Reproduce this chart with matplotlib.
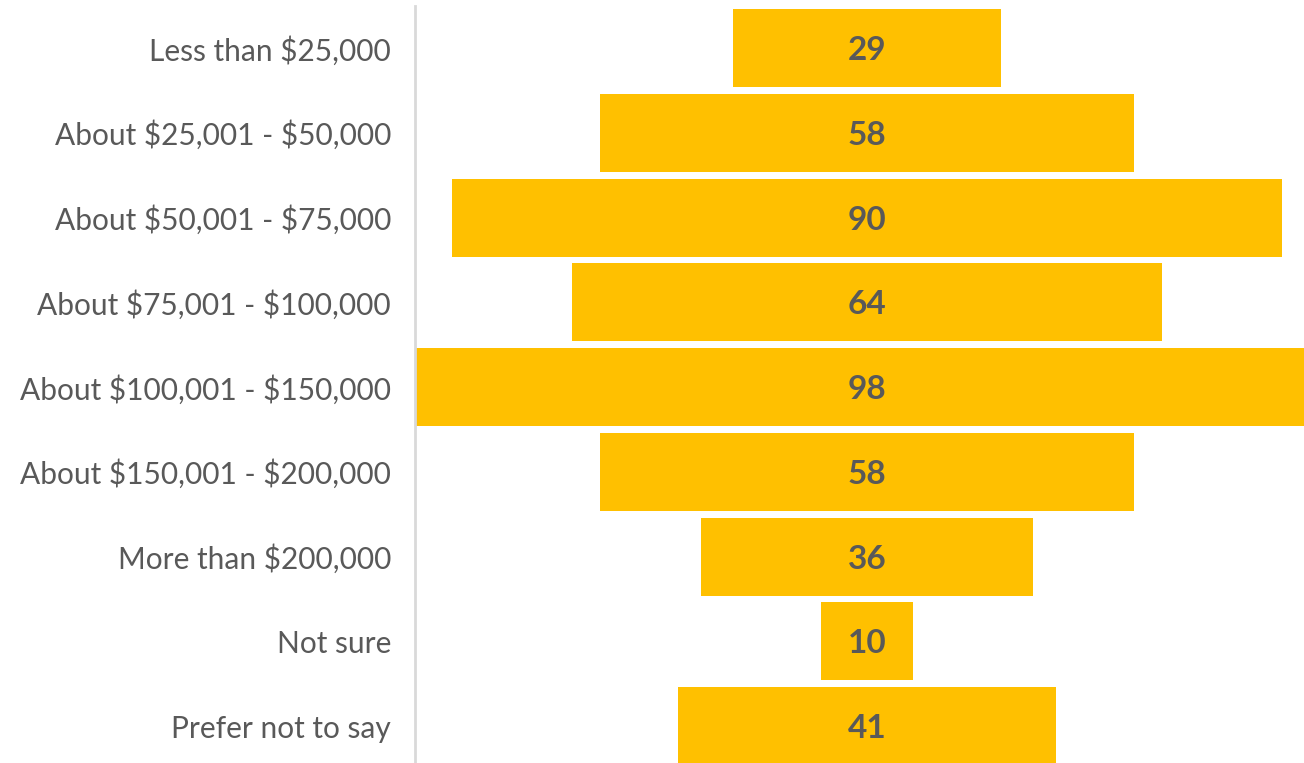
import matplotlib
matplotlib.use("Agg")
import matplotlib.pyplot as plt

categories = ["Less than $25,000", "About $25,001 - $50,000", "About $50,001 - $75,000",
              "About $75,001 - $100,000", "About $100,001 - $150,000", "About $150,001 - $200,000",
              "More than $200,000", "Not sure", "Prefer not to say"]
values = [29, 58, 90, 64, 98, 58, 36, 10, 41]

plt.rcParams['font.family'] = ['Lato', 'DejaVu Sans']
plt.rcParams['text.parse_math'] = False
text_color = "#595959"
bar_color = "#FFC000"

fig = plt.figure(figsize=(13.04, 7.63), dpi=100)
ax = fig.add_axes([416/1304, -5.6/763, 888/1304, 763/763])

n = len(categories)
ypos = list(range(n))
lefts = [-v/2 for v in values]
ax.barh(ypos, values, left=lefts, height=0.92, color=bar_color)
for y, v in zip(ypos, values):
    ax.text(0, y + 0.03, str(v), ha='center', va='center', fontsize=24, fontweight='bold', color=text_color)

ax.set_xlim(-48.9, 47.4)
ax.set_ylim(n - 0.5, -0.5)
ax.tick_params(axis='y', length=0, pad=17, labelsize=21.5, labelcolor=text_color)
ax.set_yticks(ypos)
ax.set_yticklabels(categories, fontsize=21.5, color=text_color)
ax.set_xticks([])
for s in ['top', 'right', 'bottom']:
    ax.spines[s].set_visible(False)
ax.spines['left'].set_color('#d9d9d9')
ax.spines['left'].set_linewidth(2)
ax.spines['left'].set_position(('outward', 1))

fig.savefig("out.png", dpi=100)
